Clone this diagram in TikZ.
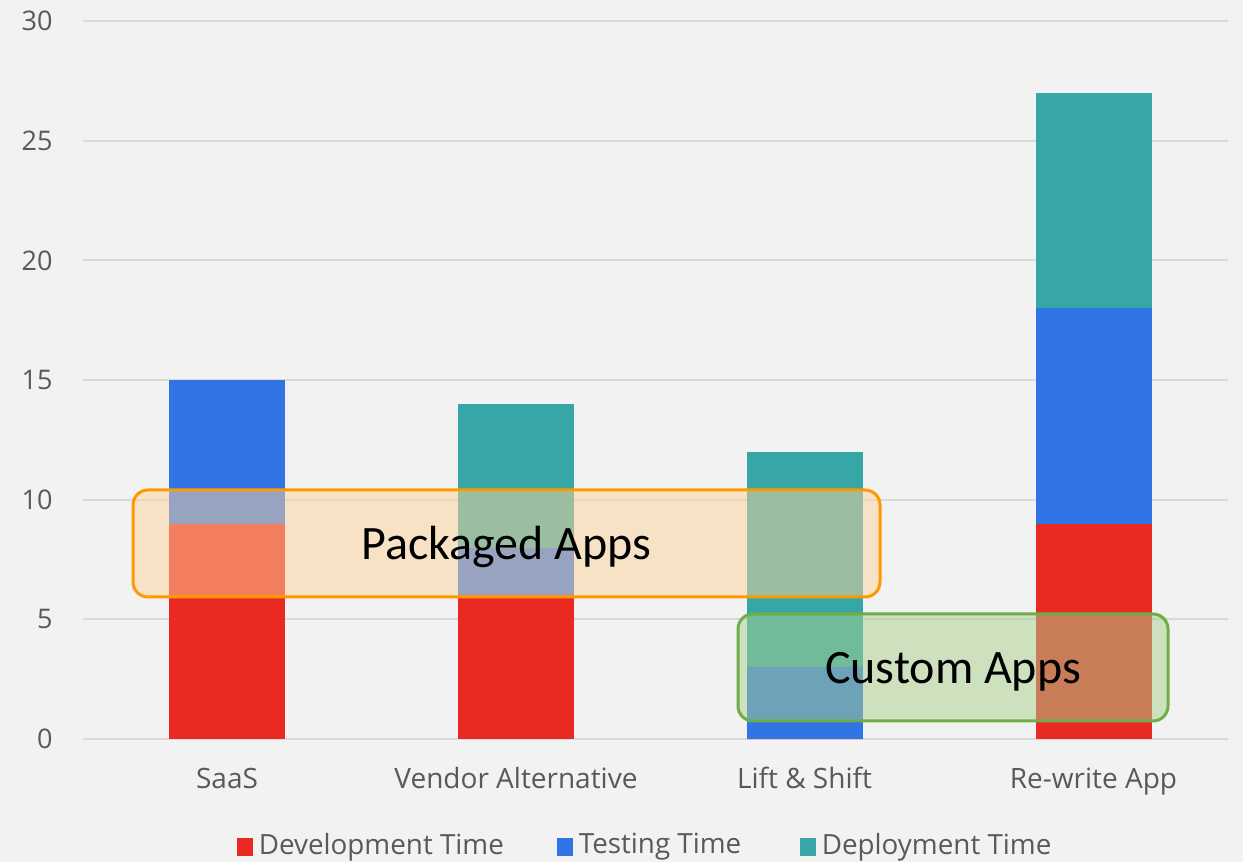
\documentclass[tikz,border=0pt]{standalone}
\usepackage{fontspec}
\setmainfont{Carlito}
\newfontfamily\axisfont{Open Sans}
\usetikzlibrary{positioning}

\definecolor{devred}{RGB}{233,42,34}
\definecolor{testblue}{RGB}{49,116,229}
\definecolor{depteal}{RGB}{55,166,167}
\definecolor{gridgray}{RGB}{217,217,217}
\definecolor{labelgray}{RGB}{89,89,89}
\definecolor{bggray}{RGB}{242,242,242}
\definecolor{pkgorange}{RGB}{255,153,0}
\definecolor{pkgfill}{RGB}{255,212,154}
\definecolor{custgreen}{RGB}{112,173,71}
\definecolor{custfill}{RGB}{169,209,142}

\begin{document}
\begin{tikzpicture}[
  x=0.5pt, y=0.5pt,
  ticklabel/.style={font=\axisfont\fontsize{13.5}{15}\selectfont, text=labelgray, anchor=east, inner sep=0pt},
  catlabel/.style={font=\axisfont\fontsize{14}{16}\selectfont, text=labelgray, anchor=base, inner sep=0pt},
  legsq/.style={minimum width=8pt, minimum height=9pt, inner sep=0pt},
  legtext/.style={font=\axisfont\fontsize{13.9}{16}\selectfont, text=labelgray, inner sep=0pt},
  groupbox/.style={rounded corners=7.5pt, line width=1.5pt, fill opacity=0.5, text opacity=1,
    font=\fontsize{24}{27}\selectfont, minimum height=53.5pt, inner sep=0pt,
    text height=17pt, text depth=1pt},
]
\useasboundingbox (0,0) rectangle (1243,862);
\fill[bggray] (0,0) rectangle (1243,862);

% data area: value v sits at 123 + 23.93 v px from the bottom
\begin{scope}[y=11.965pt, yshift=61.5pt]
  \foreach \v in {0,5,...,30}{
    \draw[gridgray, line width=1pt] (83,\v) -- (1228,\v);
    \node[ticklabel] (t\v) at (53,\v) {\v};
  }
  % stacked bars: centre / development / testing / deployment
  \foreach \cx/\d/\t/\p in {227/9/6/0, 516/6/2/6, 804.5/0/3/9, 1093.5/9/9/9}{
    \fill[devred]   (\cx-58,0)     rectangle (\cx+58,\d);
    \fill[testblue] (\cx-58,\d)    rectangle (\cx+58,\d+\t);
    \fill[depteal]  (\cx-58,\d+\t) rectangle (\cx+58,\d+\t+\p);
  }
\end{scope}

% category axis
\foreach \cx/\cname [count=\i] in {227/SaaS, 516/Vendor Alternative, 804.5/Lift \& Shift, 1093.5/Re-write App}{
  \node[catlabel] (cat\i) at (\cx,73) {\cname};
}

% highlight boxes
\node[groupbox, draw=pkgorange, fill=pkgfill, minimum width=373.5pt] (packaged) at (506.5,318.5) {Packaged Apps};
\node[groupbox, draw=custgreen, fill=custfill, minimum width=215pt] (custom) at (953,194.5) {Custom Apps};

% legend
\node[legsq, fill=devred] (ldev) at (245,15) {};
\node[legtext, right=2.5pt of ldev] (ldevtext) {Development Time};
\node[legsq, fill=testblue] (ltest) at (565,15) {};
\node[legtext, right=2.5pt of ltest] (ltesttext) {Testing Time};
\node[legsq, fill=depteal] (ldep) at (808,15) {};
\node[legtext, right=2.5pt of ldep] (ldeptext) {Deployment Time};
\end{tikzpicture}
\end{document}
